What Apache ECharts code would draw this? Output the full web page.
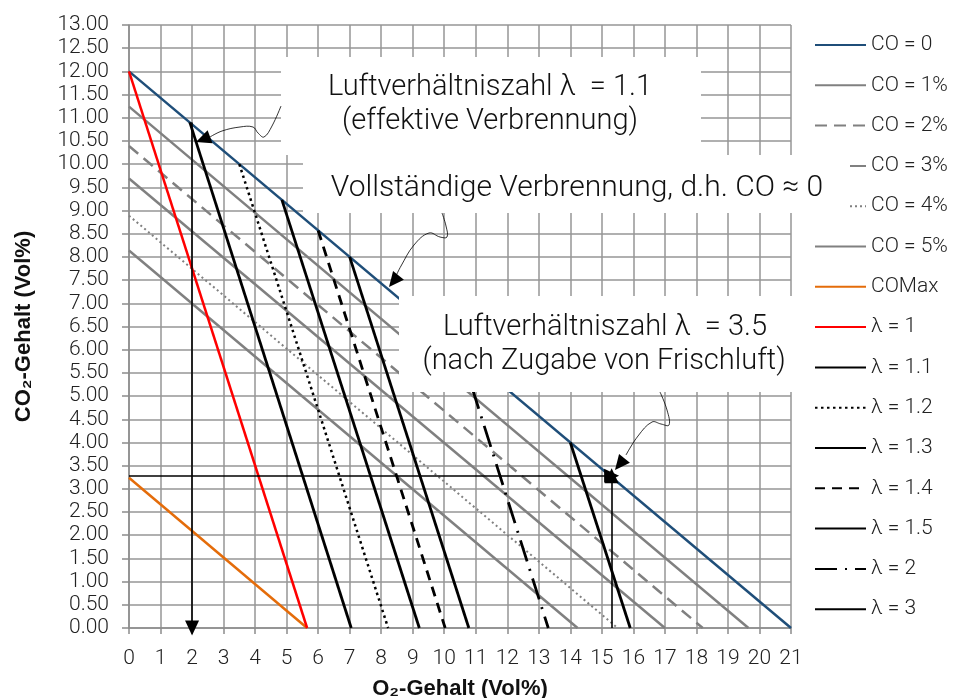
<!DOCTYPE html>
<html>
<head>
<meta charset="utf-8">
<script src="https://cdn.jsdelivr.net/npm/echarts@6/dist/echarts.min.js"></script>
<style>
html, body { margin: 0; padding: 0; background: #fff; }
#main { width: 963px; height: 698px; }
</style>
</head>
<body>
<div id="main"></div>
<script>
// CO-Linien: Start bei O2 = 0, Ende bei CO2 = 0
const coNames = ['CO = 0', 'CO = 1%', 'CO = 2%', 'CO = 3%', 'CO = 4%', 'CO = 5%', 'COMax'];
const coStartY = [12, 11.24, 10.39, 9.69, 8.89, 8.14, 3.24];
const coEndX = [21, 19.65, 18.2, 17, 15.5, 14.23, 5.65];

// Lambda-Linien: oberer Punkt auf CO = 0, Ende bei CO2 = 0
const lambdaNames = ['λ = 1', 'λ = 1.1', 'λ = 1.2', 'λ = 1.3', 'λ = 1.4', 'λ = 1.5', 'λ = 2', 'λ = 3'];
const lambdaTopX = [0, 1.93, 3.5, 4.85, 6, 7, 10.5, 14];
const lambdaTopY = [12, 10.9, 10, 9.23, 8.57, 8, 6, 4];
const lambdaEndX = [5.65, 7.05, 8.22, 9.21, 10.03, 10.78, 13.3, 15.9];

// Pfeile
const arrowFrom = [[2, 10.9], [0, 3.28], [15.31, 0]];
const arrowTo = [[2, 0], [15.31, 3.28], [15.31, 3.28]];

const GRAY = '#808080';
const coStyles = [
  { color: '#1f4e79', width: 2.5, type: 'solid' },
  { color: GRAY, width: 2.5, type: 'solid' },
  { color: GRAY, width: 2.5, type: [12, 7] },
  { color: GRAY, width: 2.5, type: 'solid' },
  { color: GRAY, width: 2, type: [2, 3] },
  { color: GRAY, width: 2.5, type: 'solid' },
  { color: '#e46c0a', width: 2.5, type: 'solid' }
];
const lambdaStyles = [
  { color: '#ff0000', width: 2.5, type: 'solid' },
  { color: '#000', width: 2.8, type: 'solid' },
  { color: '#000', width: 2.5, type: [2.5, 3.5] },
  { color: '#000', width: 2.8, type: 'solid' },
  { color: '#000', width: 2.8, type: [10, 7] },
  { color: '#000', width: 2.8, type: 'solid' },
  { color: '#000', width: 2.8, type: [22, 8, 2, 8] },
  { color: '#000', width: 2.8, type: 'solid' }
];

const FONT = 'Roboto';
const chart = echarts.init(document.getElementById('main'), null, { renderer: 'canvas' });

var series = [];
coNames.forEach(function (name, i) {
  series.push({
    name: name, type: 'line', symbol: 'none', silent: true,
    data: [[0, coStartY[i]], [coEndX[i], 0]],
    lineStyle: coStyles[i], itemStyle: { color: coStyles[i].color }
  });
});
lambdaNames.forEach(function (name, i) {
  series.push({
    name: name, type: 'line', symbol: 'none', silent: true,
    data: [[lambdaTopX[i], lambdaTopY[i]], [lambdaEndX[i], 0]],
    lineStyle: lambdaStyles[i], itemStyle: { color: lambdaStyles[i].color }
  });
});
series.push({
  name: 'arrows', type: 'line', data: [], silent: true,
  markLine: {
    silent: true, animation: false,
    symbol: ['none', 'triangle'], symbolSize: [14, 15],
    label: { show: false },
    lineStyle: { color: '#000', width: 1.6, type: 'solid' },
    emphasis: { disabled: true },
    data: arrowFrom.map(function (p, i) {
      return [{ coord: p }, { coord: arrowTo[i] }];
    })
  }
});

function arrowHead(tip, from, len, half) {
  var dx = tip[0] - from[0], dy = tip[1] - from[1];
  var d = Math.hypot(dx, dy), ux = dx / d, uy = dy / d;
  var bx = tip[0] - ux * len, by = tip[1] - uy * len;
  return [tip, [bx - uy * half, by + ux * half], [bx + uy * half, by - ux * half]];
}

function box(x, y, w, h) {
  return { type: 'rect', z: 100, silent: true, shape: { x: x, y: y, width: w, height: h }, style: { fill: '#fff' } };
}
function label(text, x, y, size) {
  return {
    type: 'text', z: 101, silent: true, x: x, y: y,
    style: { text: text, fill: '#111', fontFamily: FONT, fontWeight: 300, fontSize: size, align: 'center', verticalAlign: 'middle' }
  };
}
function callout(points, tip, from) {
  return [
    { type: 'polyline', z: 101, silent: true, shape: { points: points, smooth: 0.4 }, style: { stroke: '#000', lineWidth: 0.8, fill: null } },
    { type: 'polygon', z: 101, silent: true, shape: { points: arrowHead(tip, from, 15, 7) }, style: { fill: '#000' } }
  ];
}

var graphics = [
  box(281, 57, 420, 98),
  box(303, 155, 547, 58),
  box(399, 296, 401, 96),
  label('Luftverhältniszahl λ  = 1.1', 490, 88, 29),
  label('(effektive Verbrennung)', 490, 122, 29),
  label('Vollständige Verbrennung, d.h. CO ≈ 0', 577, 188, 30),
  label('Luftverhältniszahl λ  = 3.5', 605, 328, 29),
  label('(nach Zugabe von Frischluft)', 604, 362, 29)
].concat(
  callout([[281, 106], [272, 126], [264, 137], [258, 133], [253, 127], [240, 127], [222, 131], [210, 137]], [196, 142], [212, 136]),
  callout([[442, 213], [446, 226], [447, 237], [440, 237], [429, 233], [414, 245], [401, 266], [396, 276]], [389, 287], [398, 276]),
  callout([[660, 392], [667, 410], [669, 425], [661, 424], [652, 422], [638, 436], [626, 455]], [615, 470], [624, 459])
);

var option = {
  animation: false,
  backgroundColor: '#fff',
  textStyle: { fontFamily: FONT },
  grid: { left: 129, top: 25, width: 662, height: 603, outerBoundsMode: 'none', containLabel: false },
  legend: {
    orient: 'vertical', left: 809, top: 29.5, selectedMode: false,
    itemWidth: 51, itemHeight: 14, itemGap: 19.3,
    itemStyle: { opacity: 0 },
    data: coNames.concat(lambdaNames),
    textStyle: { fontFamily: FONT, fontWeight: 300, fontSize: 21, color: '#222', lineHeight: 21 }
  },
  xAxis: {
    type: 'value', min: 0, max: 21, interval: 1,
    name: 'O₂-Gehalt (Vol%)', nameLocation: 'middle', nameGap: 50,
    nameTextStyle: { fontFamily: 'Liberation Sans', fontWeight: 'bold', fontSize: 22, color: '#111' },
    axisLine: { show: true, lineStyle: { color: '#8c8c8c', width: 1.5 } },
    axisTick: { show: true, length: 6, lineStyle: { color: '#8c8c8c', width: 1.5 } },
    axisLabel: { fontFamily: FONT, fontWeight: 300, fontSize: 21, color: '#222', margin: 20 },
    splitLine: { show: true, lineStyle: { color: '#969696', width: 1.5 } }
  },
  yAxis: {
    type: 'value', min: 0, max: 13, interval: 0.5,
    name: 'CO₂-Gehalt (Vol%)', nameLocation: 'middle', nameGap: 94, nameRotate: 90,
    nameTextStyle: { fontFamily: 'Liberation Sans', fontWeight: 'bold', fontSize: 22, color: '#111' },
    axisLine: { show: true, lineStyle: { color: '#8c8c8c', width: 1.5 } },
    axisTick: { show: true, length: 7, lineStyle: { color: '#8c8c8c', width: 1.5 } },
    axisLabel: { fontFamily: FONT, fontWeight: 300, fontSize: 21, color: '#222', margin: 20, formatter: function (v) { return v.toFixed(2); } },
    splitLine: { show: true, lineStyle: { color: '#969696', width: 1.5 } }
  },
  series: series,
  graphic: graphics
};

chart.setOption(option);
</script>
</body>
</html>
